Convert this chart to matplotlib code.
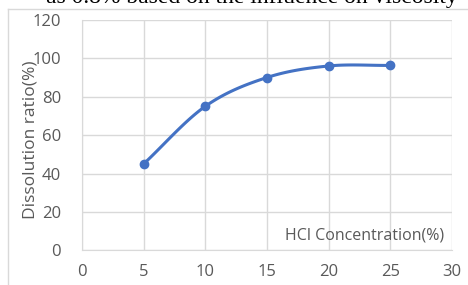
import numpy as np
import matplotlib.pyplot as plt
from matplotlib.lines import Line2D

# data
hcl_conc = [5, 10, 15, 20, 25]
dissolution = [45, 75, 90, 96, 96.3]
x_ticks = [0, 5, 10, 15, 20, 25, 30]
y_ticks = [0, 20, 40, 60, 80, 100, 120]


def smooth_curve(xs, ys, n=30):
    """Catmull-Rom style smoothing, like the spreadsheet 'smoothed line'."""
    xs = np.asarray(xs, float)
    ys = np.asarray(ys, float)
    px = np.concatenate([[2 * xs[0] - xs[1]], xs, [2 * xs[-1] - xs[-2]]])
    py = np.concatenate([[2 * ys[0] - ys[1]], ys, [2 * ys[-1] - ys[-2]]])
    out_x, out_y = [], []
    t = np.linspace(0, 1, n)
    for i in range(1, len(px) - 2):
        p0, p1, p2, p3 = (np.array([px[j], py[j]]) for j in range(i - 1, i + 3))
        b1 = p1 + (p2 - p0) / 6
        b2 = p2 - (p3 - p1) / 6
        pts = ((1 - t) ** 3)[:, None] * p1 + (3 * (1 - t) ** 2 * t)[:, None] * b1 \
            + (3 * (1 - t) * t ** 2)[:, None] * b2 + (t ** 3)[:, None] * p2
        out_x.extend(pts[:, 0])
        out_y.extend(pts[:, 1])
    return np.array(out_x), np.array(out_y)


W, H = 468, 285
fig = plt.figure(figsize=(W / 100, H / 100), dpi=100)
ax = fig.add_axes([82 / W, 1 - 250.3 / H, 370 / W, 230.4 / H])

font = ["Open Sans", "DejaVu Sans"]
grey = "#595959"
blue = "#4472C4"

sx, sy = smooth_curve(hcl_conc, dissolution)
ax.plot(sx, sy, color=blue, lw=2.2, solid_capstyle="round", zorder=3)
ax.plot(hcl_conc, dissolution, "o", color=blue, ms=6, zorder=4)

ax.set_xlim(0, 30)
ax.set_ylim(0, 120)
ax.set_xticks(x_ticks)
ax.set_yticks(y_ticks)
ax.grid(True, color="#d9d9d9", lw=1)
ax.set_axisbelow(True)
for s in ["top", "right"]:
    ax.spines[s].set_visible(False)
for s in ["left", "bottom"]:
    ax.spines[s].set_color("#d9d9d9")
ax.tick_params(axis="y", length=0, labelsize=12, labelcolor=grey, pad=15)
ax.tick_params(axis="x", length=0, labelsize=12, labelcolor=grey, pad=10)
for lab in ax.get_xticklabels() + ax.get_yticklabels():
    lab.set_family(font)

ax.set_ylabel("Dissolution ratio(%)", family=font, fontsize=12.5, color=grey, labelpad=-4)
ax.yaxis.label.set_y(0.48)
ax.text(0.98, 0.065, "HCl Concentration(%)", transform=ax.transAxes, ha="right",
        va="center", family=font, fontsize=11.5, color=grey)

# chart frame and clipped caption line from the page
fig.add_artist(Line2D([8 / W, 8 / W], [0, 1 - 9 / H], color="#d9d9d9", lw=1))
fig.add_artist(Line2D([8 / W, 1], [1 - 9 / H, 1 - 9 / H], color="#d9d9d9", lw=1))
fig.text(458 / W, 1 - 3 / H, "as 0.8% based on the influence on viscosity",
         ha="right", va="baseline", family="Liberation Serif", fontsize=17, color="black")

fig.savefig("out.png", dpi=100)
